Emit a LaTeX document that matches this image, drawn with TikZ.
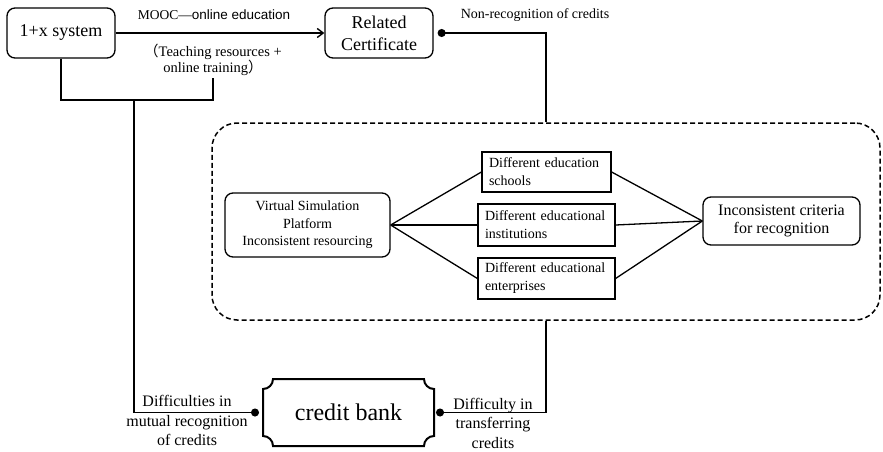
\documentclass[tikz,border=0pt]{standalone}
\usepackage{fontspec}
\setmainfont{Liberation Serif}
\newfontfamily\arialf{Liberation Sans}
\newfontfamily\cjkf{Noto Sans CJK SC}
\usetikzlibrary{arrows.meta}

\begin{document}
\begin{tikzpicture}[x=1pt,y=-1pt,
  line width=1.4pt,
  rbox/.style={draw, rounded corners=8pt, line width=1.3pt, inner sep=0pt, align=center},
  sbox/.style={draw, line width=1.2pt, inner xsep=7pt, inner ysep=0pt, align=left},
  lbl/.style={inner sep=0pt, align=center},
  link/.style={line width=1.3pt},
  dot/.style={-{Circle[length=8pt]}, line width=1.4pt}
]
\useasboundingbox (0,0) rectangle (883,452);

% top row
\node[rbox, minimum width=108, minimum height=50, font=\fontsize{18}{22}\selectfont] (sys) at (61,33) {1+x system};
\node[rbox, minimum width=108, minimum height=50, font=\fontsize{18}{22}\selectfont] (cert) at (379,33) {Related\\Certificate};
\draw[-{Straight Barb[length=6pt,width=9pt]}] (sys) -- (cert);
\node[lbl, font=\fontsize{13.5}{16}\selectfont] (mooc) at (214,15) {MOOC—{\arialf online education}};
\node[lbl, inner ysep=2pt, anchor=south, font=\fontsize{14.5}{16}\selectfont] (teach) at (213,78)
  {{\cjkf （}Teaching resources +\\online training{\cjkf ）}};
\node[lbl, font=\fontsize{14}{16}\selectfont] (nonrec) at (535,15) {Non-recognition of credits};

% joint below the 1+x system
\coordinate (j) at (134,100);
\draw (sys.south) |- (j) -| (teach.south);

% dashed group
\node[draw, dash pattern=on 5pt off 3pt, rounded corners=25pt, line width=1.5pt,
      minimum width=668, minimum height=197, inner sep=0pt] (grp) at (546,221.5) {};

\node[rbox, minimum width=165, minimum height=64, font=\fontsize{14}{17.5}\selectfont] (vsp) at (307.5,225)
  {Virtual Simulation\\Platform\\Inconsistent resourcing};
\node[sbox, text width=115, minimum height=40, font=\fontsize{14}{18}\selectfont] (s1) at (546.5,172)
  {Different education\\schools};
\node[sbox, text width=123, minimum height=42, font=\fontsize{14}{18}\selectfont] (s2) at (546.5,225)
  {Different educational\\institutions};
\node[sbox, text width=123, minimum height=41, font=\fontsize{14}{18}\selectfont] (s3) at (546.5,278.5)
  {Different educational\\enterprises};
\node[rbox, minimum width=157, minimum height=48, font=\fontsize{16}{18.5}\selectfont] (icr) at (781.5,221)
  {Inconsistent criteria\\for recognition};

\foreach \s in {s1,s2,s3} {
  \draw[link] (vsp.east) -- (\s.west);
  \draw[link] (\s.east) -- (icr.west);
}

% credit bank
\node[inner sep=0pt, outer sep=0pt, minimum width=171, minimum height=67,
      font=\fontsize{24}{28}\selectfont] (bank) at (348.5,412.5) {credit bank};
\draw[line width=2pt] (273,379) -- (424,379) arc[start angle=180, end angle=90, radius=10]
  -- (434,436) arc[start angle=270, end angle=180, radius=10]
  -- (273,446) arc[start angle=0, end angle=-90, radius=10]
  -- (263,389) arc[start angle=90, end angle=0, radius=10] -- cycle;

% connectors ending in dots
\draw[dot, shorten >=4pt] (grp.north) |- (cert.east);
\draw[dot, shorten >=4pt] (j) |- (bank.west);
\draw[dot, shorten >=2pt] (grp.south) |- (bank.east);

\node[lbl, font=\fontsize{16}{19.5}\selectfont] (lblL) at (187,420.5) {Difficulties in\\mutual recognition\\of credits};
\node[lbl, font=\fontsize{16}{19.5}\selectfont] (lblR) at (493,423) {Difficulty in\\transferring\\credits};
\end{tikzpicture}
\end{document}
